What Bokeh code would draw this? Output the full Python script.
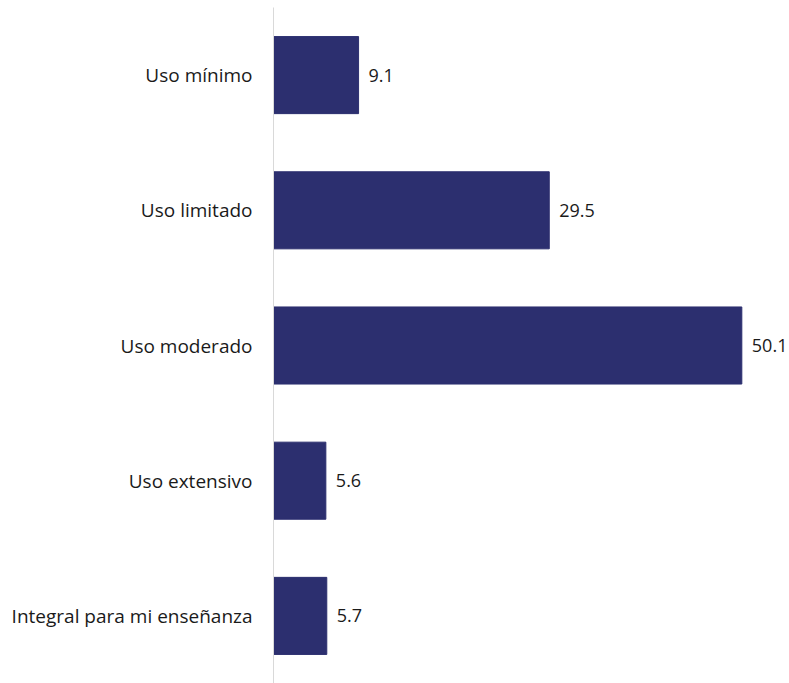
from bokeh.plotting import figure
from bokeh.models import ColumnDataSource, Range1d
from bokeh.core.properties import value
from bokeh.embed import file_html
from bokeh.resources import INLINE

categories = ["Uso mínimo", "Uso limitado", "Uso moderado", "Uso extensivo", "Integral para mi enseñanza"]
values = [9.1, 29.5, 50.1, 5.6, 5.7]
labels = ["9.1", "29.5", "50.1", "5.6", "5.7"]

FONT = "Open Sans"
BAR = "#2c2f6f"

src = ColumnDataSource(dict(cat=categories, val=values, lab=labels))

p = figure(y_range=list(reversed(categories)), x_range=Range1d(0, 55.2),
           width=789, height=683, output_backend="svg", toolbar_location=None,
           x_axis_location=None, min_border_left=273, min_border_right=0,
           min_border_top=7, min_border_bottom=0)
p.outline_line_color = None
p.grid.grid_line_color = None

p.hbar(y="cat", right="val", left=0, height=0.57, source=src,
       fill_color=BAR, line_color=BAR)
p.text(x="val", y="cat", text="lab", source=src, x_offset=10,
       text_baseline="middle", text_align="left", text_font=value(FONT),
       text_font_size="18px", text_color="#1a1a1a")

ax = p.yaxis[0]
ax.axis_line_color = "#d9d9d9"
ax.axis_line_width = 1
ax.major_tick_line_color = None
ax.minor_tick_line_color = None
ax.major_label_standoff = 15
ax.major_label_text_font = FONT
ax.major_label_text_font_size = "19px"
ax.major_label_text_color = "#1a1a1a"

open("out.html", "w").write(file_html(p, INLINE))
